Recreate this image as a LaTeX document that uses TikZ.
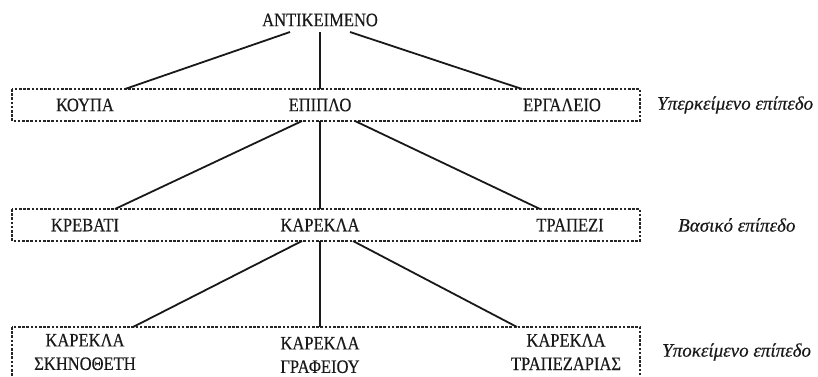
\documentclass[tikz,border=0pt]{standalone}
\usepackage{fontspec}
\setmainfont{Liberation Serif}[FakeBold=0.35]
\newfontfamily\capsfont{Liberation Serif}[FakeStretch=0.87,FakeBold=0.35]
\begin{document}
\begin{tikzpicture}[x=1pt,y=-1pt,
  term/.style={font=\capsfont\fontsize{19}{23.5}\selectfont, inner sep=0pt, align=center, text=black!90},
  level/.style={font=\itshape\fontsize{19}{24}\selectfont, inner sep=0pt, anchor=west, text=black!90},
  levelbox/.style={draw=black!85, line width=1.5pt, dash pattern=on 2.6pt off 1.6pt},
  link/.style={draw=black!90, line width=1.8pt}]
\useasboundingbox (0,0) rectangle (818,376);
% level boxes
\draw[levelbox] (12,89) rectangle (640,121);
\draw[levelbox] (12,209) rectangle (640,241);
\draw[levelbox] (12,327) rectangle (640,390);
% nodes
\node[term] (obj) at (320,20) {ΑΝΤΙΚΕΙΜΕΝΟ};
\node[term] (koupa) at (85,105) {ΚΟΥΠΑ};
\node[term] (epiplo) at (320,105) {ΕΠΙΠΛΟ};
\node[term] (ergaleio) at (562,105) {ΕΡΓΑΛΕΙΟ};
\node[term] (krevati) at (85,225) {ΚΡΕΒΑΤΙ};
\node[term] (karekla) at (320,225) {ΚΑΡΕΚΛΑ};
\node[term] (trapezi) at (570,225) {ΤΡΑΠΕΖΙ};
\node[term] (skin) at (85,352) {ΚΑΡΕΚΛΑ\\ΣΚΗΝΟΘΕΤΗ};
\node[term] (graf) at (320,355) {ΚΑΡΕΚΛΑ\\ΓΡΑΦΕΙΟΥ};
\node[term] (trap) at (566,352) {ΚΑΡΕΚΛΑ\\ΤΡΑΠΕΖΑΡΙΑΣ};
% level labels
\node[level] (l1) at (657,105) {Υπερκείμενο επίπεδο};
\node[level] (l2) at (678,225) {Βασικό επίπεδο};
\node[level] (l3) at (662,352) {Υποκείμενο επίπεδο};
% connector end points
\coordinate (o1) at (290,32); \coordinate (o2) at (320,32); \coordinate (o3) at (350,32);
\coordinate (a1) at (125,89); \coordinate (a2) at (320,89); \coordinate (a3) at (522,89);
\coordinate (e1) at (302,121); \coordinate (e2) at (320,121); \coordinate (e3) at (355,121);
\coordinate (b1) at (115,209); \coordinate (b2) at (320,209); \coordinate (b3) at (540,209);
\coordinate (k1) at (302,241); \coordinate (k2) at (320,241); \coordinate (k3) at (353,241);
\coordinate (c1) at (133,327); \coordinate (c2) at (320,327); \coordinate (c3) at (517,327);
\draw[link] (o1) -- (a1); \draw[link] (o2) -- (a2); \draw[link] (o3) -- (a3);
\draw[link] (e1) -- (b1); \draw[link] (e2) -- (b2); \draw[link] (e3) -- (b3);
\draw[link] (k1) -- (c1); \draw[link] (k2) -- (c2); \draw[link] (k3) -- (c3);
\end{tikzpicture}
\end{document}
